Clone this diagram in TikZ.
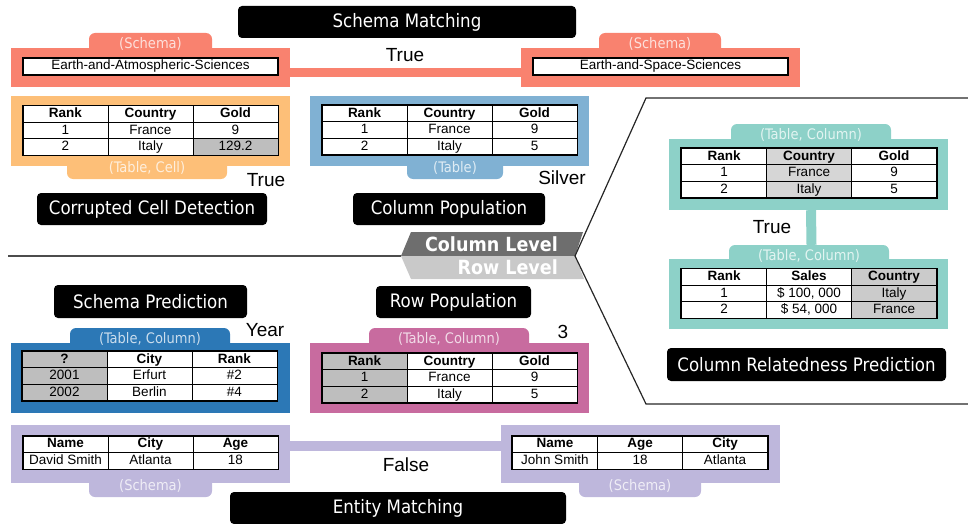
\documentclass[tikz,border=0pt]{standalone}
\usepackage{fontspec}
\setmainfont{Liberation Sans}
\newfontfamily\tagfont{DejaVu Sans Condensed}
\usetikzlibrary{positioning, matrix}
\definecolor{smatch}{RGB}{249,130,111}
\definecolor{ccell}{RGB}{253,191,120}
\definecolor{cpop}{RGB}{128,177,211}
\definecolor{crel}{RGB}{141,209,200}
\definecolor{spred}{RGB}{44,120,182}
\definecolor{rpop}{RGB}{200,107,159}
\definecolor{ematch}{RGB}{190,183,220}
\definecolor{cellgray}{RGB}{190,190,190}
\definecolor{cellpale}{RGB}{214,214,214}
\tikzset{
    tag/.style={shape=rectangle,fill=black,rounded corners=4pt,text=white,inner sep=0pt,
      font=\tagfont\fontsize{18.5}{20}\selectfont,minimum height=32pt},
    frame/.style={shape=rectangle,fill=#1,inner sep=0pt,minimum width=279pt},
    tab/.style={shape=rectangle,fill=#1,rounded corners=6pt,text=#1!25!white,inner sep=0pt,
      font=\tagfont\fontsize{14.5}{16}\selectfont,minimum height=22pt},
    verdict/.style={inner sep=0pt,font=\fontsize{19}{21}\selectfont},
    namebox/.style={shape=rectangle,draw,fill=white,line width=1.2pt,inner sep=0pt,
      minimum width=255pt,minimum height=17pt,font=\fontsize{13.5}{15}\selectfont},
    grid/.style={matrix of nodes,draw,line width=1.3pt,inner sep=0pt,
      column sep=-0.8pt,row sep=-0.8pt,
      nodes={draw,line width=0.8pt,fill=white,inner sep=0pt,minimum width=85pt,
        minimum height=16.5pt,text height=9.7pt,text depth=2.6pt,
        font=\fontsize{13.5}{15}\selectfont},
      row 1/.style={nodes={font=\fontsize{13.5}{15}\bfseries}}},
  }
\begin{document}
\begin{tikzpicture}[x=1pt,y=-1pt]
    \useasboundingbox (0,0) rectangle (968,524);
    % create the frames
    \node[frame=smatch,minimum height=39pt] (sm1) at (150.5,67.5) {};
    \node[frame=smatch,minimum height=39pt] (sm2) at (660.5,67.5) {};
    \node[frame=ccell,minimum height=70pt] (cc) at (150.5,131) {};
    \node[frame=cpop,minimum height=70pt] (cp) at (449.5,131) {};
    \node[frame=crel,minimum height=71pt] (cr1) at (808.5,174.5) {};
    \node[frame=crel,minimum height=70pt] (cr2) at (808.5,294) {};
    \node[frame=spred,minimum height=70pt] (sp) at (150.5,378) {};
    \node[frame=rpop,minimum height=70pt] (rp) at (449.5,378) {};
    \node[frame=ematch,minimum height=58pt] (em1) at (150.5,454) {};
    \node[frame=ematch,minimum height=58pt] (em2) at (640.5,454) {};
    % tabs
    \node[tab=smatch,minimum width=123pt] (sm1tab) at (150.5,44) {(Schema)};
    \node[tab=smatch,minimum width=122pt] (sm2tab) at (660,44) {(Schema)};
    \node[tab=ccell,minimum width=160pt] (cctab) at (147,168) {(Table, Cell)};
    \node[tab=cpop,minimum width=96pt] (cptab) at (455,168) {(Table)};
    \node[tab=crel,minimum width=160pt] (cr1tab) at (811,135) {(Table, Column)};
    \node[tab=crel,minimum width=160pt] (cr2tab) at (809,256) {(Table, Column)};
    \node[tab=spred,minimum width=160pt] (sptab) at (150,339) {(Table, Column)};
    \node[tab=rpop,minimum width=160pt] (rptab) at (449,339) {(Table, Column)};
    \node[tab=ematch,minimum width=123pt] (em1tab) at (150.5,486) {(Schema)};
    \node[tab=ematch,minimum width=122pt] (em2tab) at (640,486) {(Schema)};
    % links between pairs
    \draw[smatch,line width=9.5pt] ([yshift=-5pt]sm1.east) -- ([yshift=-5pt]sm2.west);
    \draw[crel,line width=10pt] ([xshift=2.5pt]cr1.south) -- ([xshift=2.5pt]cr2tab.north);
    \draw[ematch,line width=10pt] ([yshift=8pt]em1.east) -- ([yshift=8pt]em2.west);
    % tables
    \node[namebox] (sm1name) at (150.5,66.5) {Earth-and-Atmospheric-Sciences};
    \node[namebox] (sm2name) at (660.5,66.5) {Earth-and-Space-Sciences};
    \matrix[grid] (cctbl) at (150.5,130.5) {
      Rank & Country & Gold \\
      1 & France & 9 \\
      2 & Italy & |[fill=cellgray]| 129.2 \\
    };
    \matrix[grid] (cptbl) at (449.5,130) {
      Rank & Country & Gold \\
      1 & France & 9 \\
      2 & Italy & 5 \\
    };
    \matrix[grid,column 2/.style={nodes={fill=cellpale}}] (cr1tbl) at (809,173) {
      Rank & Country & Gold \\
      1 & France & 9 \\
      2 & Italy & 5 \\
    };
    \matrix[grid,column 3/.style={nodes={fill=cellgray!80!white}}] (cr2tbl) at (809,293.5) {
      Rank & Sales & Country \\
      1 & \$ 100, 000 & Italy \\
      2 & \$ 54, 000 & France \\
    };
    \matrix[grid,column 1/.style={nodes={fill=cellgray}}] (sptbl) at (149.5,376) {
      ? & City & Rank \\
      2001 & Erfurt & \#2 \\
      2002 & Berlin & \#4 \\
    };
    \matrix[grid,column 1/.style={nodes={fill=cellgray}}] (rptbl) at (449.5,378) {
      Rank & Country & Gold \\
      1 & France & 9 \\
      2 & Italy & 5 \\
    };
    \matrix[grid] (em1tbl) at (150.5,452.5) {
      Name & City & Age \\
      David Smith & Atlanta & 18 \\
    };
    \matrix[grid] (em2tbl) at (640,452.5) {
      Name & Age & City \\
      John Smith & 18 & Atlanta \\
    };
    % answers
    \node[verdict] (smans) at (405,55) {True};
    \node[verdict] (ccans) at (266,180) {True};
    \node[verdict] (cpans) at (562,178) {Silver};
    \node[verdict] (crans) at (772,227) {True};
    \node[verdict] (spans) at (265,330) {Year};
    \node[verdict] (rpans) at (563,332) {3};
    \node[verdict] (emans) at (406,465) {False};
    % task names
    \node[tag,minimum width=338pt] (smtag) at (407,22) {Schema Matching};
    \node[tag,minimum width=230pt] (cctag) at (152,209) {Corrupted Cell Detection};
    \node[tag,minimum width=192pt] (cptag) at (449,209) {Column Population};
    \node[tag,minimum width=279pt,minimum height=33pt] (crtag) at (806.5,364.5) {Column Relatedness Prediction};
    \node[tag,minimum width=193pt,minimum height=33pt] (sptag) at (150.5,301.5) {Schema Prediction};
    \node[tag,minimum width=155pt] (rptag) at (453.5,302) {Row Population};
    \node[tag,minimum width=336pt] (emtag) at (398,508) {Entity Matching};
    % levels
    \fill[black!57] (401,256) -- (411,232) -- (583,232) -- (575,256) -- cycle;
    \fill[black!21] (401,256) -- (575,256) -- (584,279) -- (411,279) -- cycle;
    \node[anchor=east,inner sep=0pt,text=white,font=\tagfont\fontsize{19.5}{21}\bfseries] (collevel) at (558,244) {Column Level};
    \node[anchor=east,inner sep=0pt,text=white,font=\tagfont\fontsize{19.5}{21}\bfseries] (rowlevel) at (558,267) {Row Level};
    \coordinate (left) at (8,256);
    \coordinate (fork) at (575,256);
    \coordinate (up) at (646,98);
    \coordinate (down) at (646,404);
    \draw[black!70,line width=1.5pt] (left) -- (401,256);
    \draw[black!85,line width=1.2pt] (968,98) -- (up) -- (fork) -- (down) -- (968,404);
\end{tikzpicture}
\end{document}
